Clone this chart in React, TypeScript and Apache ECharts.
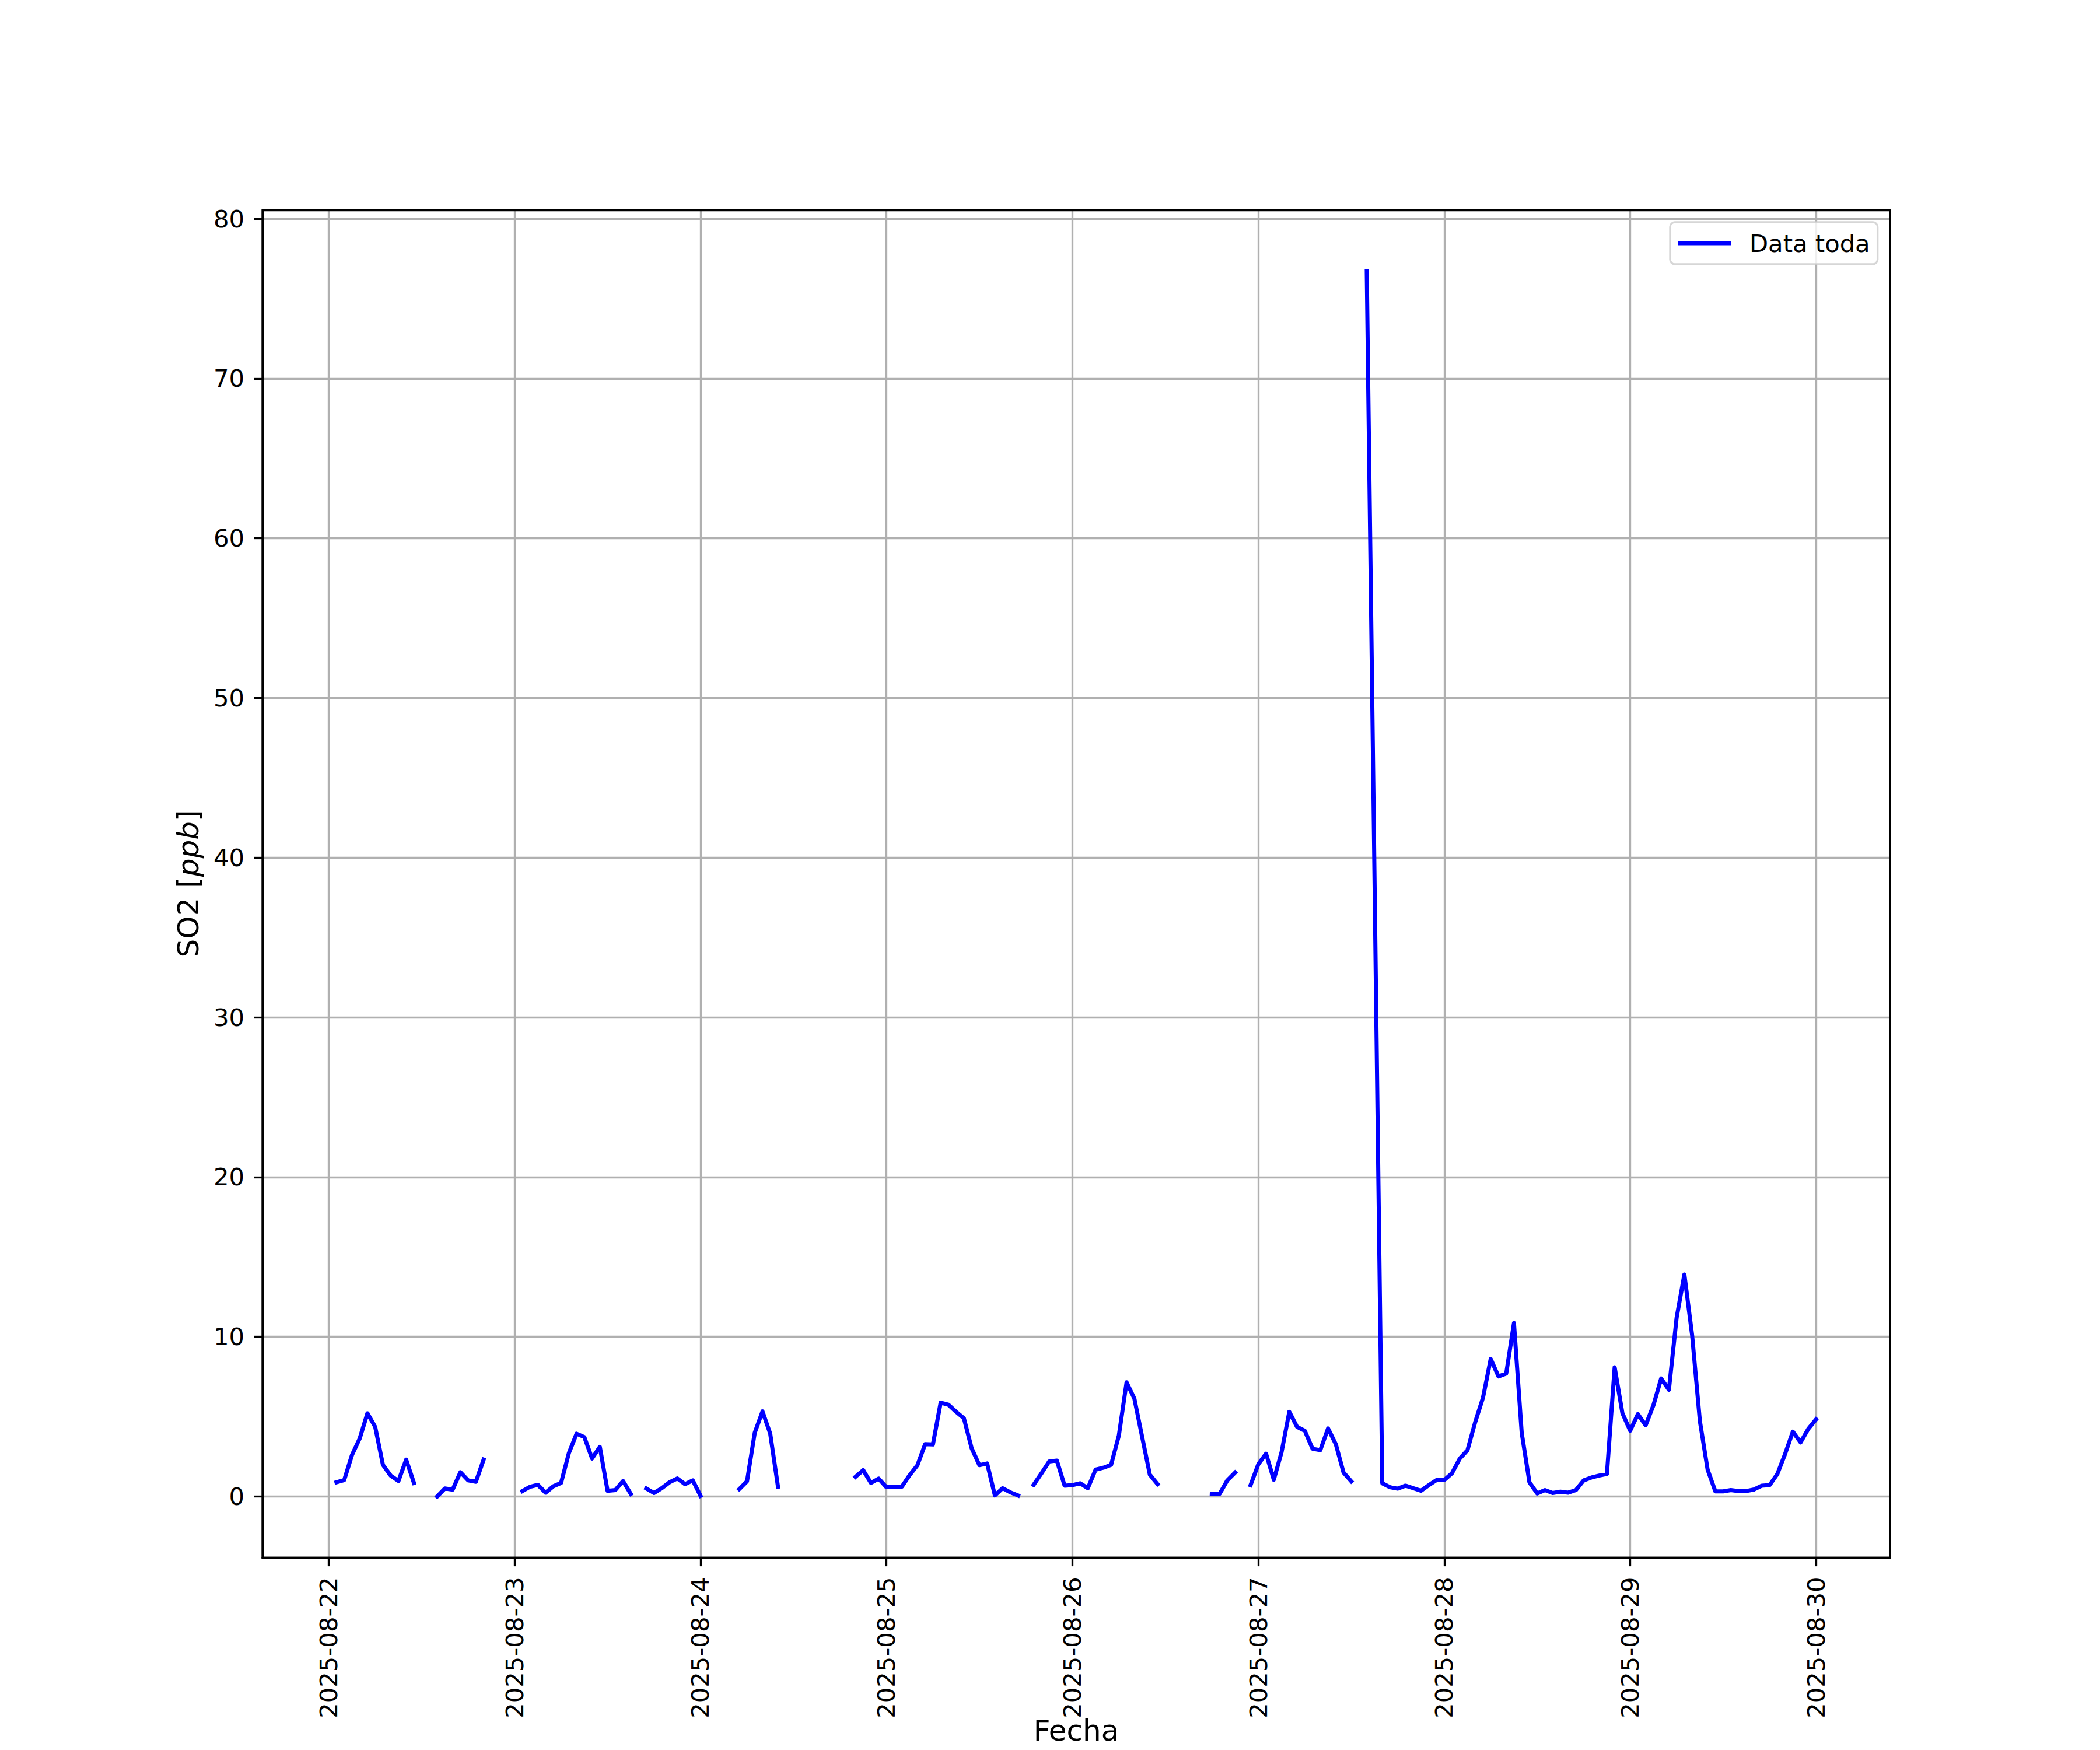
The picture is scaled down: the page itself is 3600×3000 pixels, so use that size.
import React, { useEffect, useRef } from "react";
import * as echarts from "echarts";

// Hourly SO2 readings [ppb], index = hour of day (00..23).
// null = invalid reading (line is broken there); undefined = no row recorded (line continues).
const day22 = [null, 0.89, 1.03, 2.59, 3.63, 5.21, 4.36, 1.98, 1.31, 0.97, 2.31, 0.85, null, null, 0.0, 0.5, 0.43, 1.52, 1.01, 0.92, 2.31, null, null, null];
const day23 = [null, 0.34, 0.61, 0.73, 0.24, 0.64, 0.85, 2.71, 3.93, 3.72, 2.38, 3.11, 0.36, 0.4, 0.97, 0.16, null, 0.5, 0.22, 0.52, 0.89, 1.13, 0.77, 1.01];
const day24 = [0.04, null, null, null, null, 0.46, 0.95, 3.99, 5.33, 3.93, 0.61, null, null, null, null, null, null, null, null, null, 1.23, 1.65, 0.85, 1.12];
const day25 = [0.58, 0.61, 0.62, 1.34, 1.96, 3.28, 3.26, 5.88, 5.75, 5.3, 4.9, 3.02, 1.96, 2.07, 0.07, 0.52, 0.26, 0.06, null, 0.73, 1.44, 2.19, 2.25, 0.68];
const day26 = [0.71, 0.83, 0.52, 1.68, 1.8, 1.98, 3.81, 7.15, 6.14, 3.75, 1.37, 0.77, null, null, null, null, null, null, 0.18, 0.16, 1.01, 1.5, null, 0.71];
const day27 = [2.02, 2.68, 1.05, 2.77, 5.3, 4.36, 4.11, 2.99, 2.9, 4.26, 3.28, 1.5, 0.95, null, 76.7, undefined, 0.83, 0.58, 0.49, 0.68, 0.52, 0.36, 0.71, 1.03];
const day28 = [1.03, 1.46, 2.37, 2.9, 4.66, 6.18, 8.61, 7.52, 7.7, 10.86, 3.99, 0.89, 0.19, 0.4, 0.22, 0.3, 0.24, 0.4, 1.01, 1.19, 1.31, 1.41, 8.09, 5.22];
const day29 = [4.12, 5.16, 4.46, 5.71, 7.39, 6.68, 11.2, 13.9, 10.1, 4.73, 1.68, 0.32, 0.32, 0.4, 0.34, 0.34, 0.44, 0.68, 0.71, 1.41, 2.66, 4.06, 3.39, 4.24];
const day30 = [4.83];

const dayLabels = ["2025-08-22", "2025-08-23", "2025-08-24", "2025-08-25", "2025-08-26", "2025-08-27", "2025-08-28", "2025-08-29", "2025-08-30"];
const yTickValues = [0, 10, 20, 30, 40, 50, 60, 70, 80];
const seriesName = "Data toda";

const FONT = "DejaVu Sans";
const LW = 3.33;
const HOURS_PER_DAY = 24;

// x is expressed in hours since 2025-08-22 00:00
function buildPoints() {
  const days = [day22, day23, day24, day25, day26, day27, day28, day29, day30];
  const pts: any[] = [];
  days.forEach((arr, d) => {
    arr.forEach((v, h) => {
      if (v === undefined) return;
      pts.push([d * HOURS_PER_DAY + h, v]);
    });
  });
  return pts;
}

export default function App() {
  const ref = useRef<HTMLDivElement>(null);
  useEffect(() => {
    if (!ref.current) return;
    const chart = echarts.init(ref.current, null, { renderer: "svg" });
    const points = buildPoints();
    const valid = points.filter((p) => p[1] !== null);
    const xs = valid.map((p) => p[0]);
    const ys = valid.map((p) => p[1] as number);
    const x0 = Math.min(...xs), x1 = Math.max(...xs);
    const y0 = Math.min(...ys), y1 = Math.max(...ys);
    const xPad = (x1 - x0) * 0.05, yPad = (y1 - y0) * 0.05;
    const xTickValues = dayLabels.map((_, i) => i * HOURS_PER_DAY);

    chart.setOption({
      animation: false,
      backgroundColor: "#ffffff",
      grid: { left: 450, right: 360, top: 360.5, bottom: 329.5, containLabel: false },
      legend: {
        show: true,
        left: 2863,
        top: 381,
        icon: "rect",
        itemWidth: 91,
        itemHeight: 7,
        padding: [10, 13, 10, 13],
        backgroundColor: "rgba(255,255,255,0.8)",
        borderColor: "rgba(204,204,204,0.8)",
        borderWidth: LW,
        borderRadius: 8,
        selectedMode: false,
        textStyle: { fontSize: 41.7, fontFamily: FONT, color: "#000", lineHeight: 52, padding: [0, 0, 0, 27] },
        data: [seriesName],
      },
      xAxis: {
        type: "value",
        min: x0 - xPad,
        max: x1 + xPad,
        minInterval: HOURS_PER_DAY,
        maxInterval: HOURS_PER_DAY,
        axisLine: { show: true, onZero: false, lineStyle: { color: "#000", width: LW } },
        axisTick: { show: true, inside: false, length: 14.6, lineStyle: { color: "#000", width: LW }, customValues: xTickValues },
        axisLabel: {
          show: true,
          rotate: 90,
          margin: 33,
          fontSize: 41.7,
          fontFamily: FONT,
          color: "#000",
          customValues: xTickValues,
          formatter: (v: number) => dayLabels[Math.round(v / HOURS_PER_DAY)] ?? "",
        },
        splitLine: { show: true, lineStyle: { color: "#b0b0b0", width: LW } },
      },
      yAxis: {
        type: "value",
        min: y0 - yPad,
        max: y1 + yPad,
        minInterval: 10,
        maxInterval: 10,
        axisLine: { show: true, onZero: false, lineStyle: { color: "#000", width: LW } },
        axisTick: { show: true, inside: false, length: 14.6, lineStyle: { color: "#000", width: LW }, customValues: yTickValues },
        axisLabel: {
          show: true,
          margin: 31,
          fontSize: 41.7,
          fontFamily: FONT,
          color: "#000",
          customValues: yTickValues,
        },
        splitLine: { show: true, lineStyle: { color: "#b0b0b0", width: LW } },
      },
      series: [
        {
          name: seriesName,
          type: "line",
          data: points,
          showSymbol: false,
          symbol: "none",
          connectNulls: false,
          color: "#0000ff",
          itemStyle: { color: "#0000ff" },
          lineStyle: { color: "#0000ff", width: 7, cap: "square", join: "round" },
          emphasis: { disabled: true },
        },
      ],
      graphic: [
        {
          type: "rect",
          silent: true,
          z: 50,
          shape: { x: 450, y: 360.5, width: 2790, height: 2310 },
          style: { fill: "rgba(0,0,0,0)", stroke: "#000", lineWidth: LW },
        },
        {
          type: "text",
          silent: true,
          x: 323,
          y: 1515,
          rotation: Math.PI / 2,
          style: {
            text: "{n|SO2 [}{i|ppb}{n|]}",
            align: "center",
            verticalAlign: "middle",
            rich: {
              n: { fontSize: 50, fontFamily: FONT, fill: "#000" },
              i: { fontSize: 50, fontFamily: FONT, fontStyle: "italic", fill: "#000" },
            },
          },
        },
        {
          type: "text",
          silent: true,
          x: 1845,
          y: 2967,
          style: { text: "Fecha", fontSize: 50, lineHeight: 36, fontFamily: FONT, fill: "#000", align: "center", verticalAlign: "middle" },
        },
      ],
    });
    return () => chart.dispose();
  }, []);
  return <div ref={ref} style={{ position: "absolute", left: 0, top: 0, width: 3600, height: 3000 }} />;
}
